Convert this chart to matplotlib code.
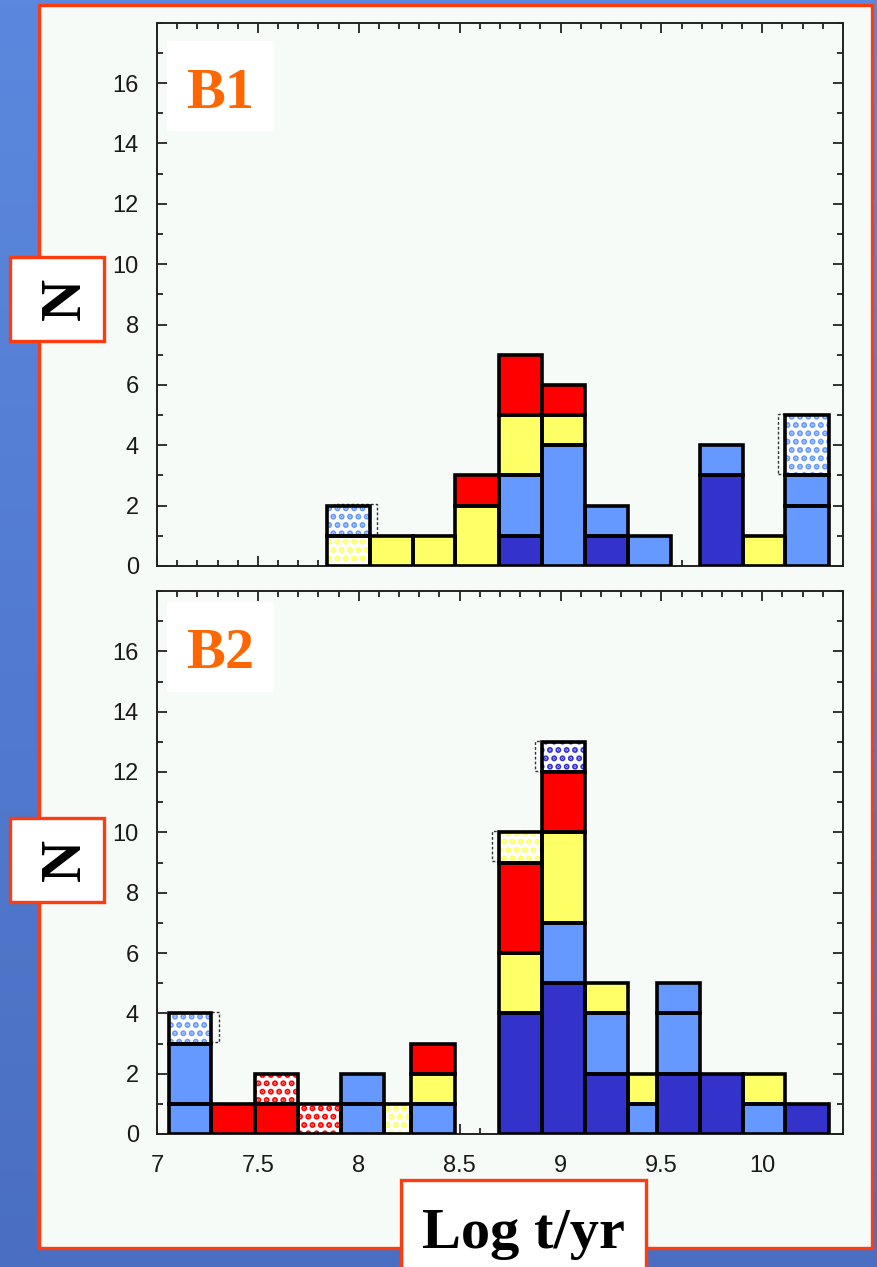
import numpy as np
import matplotlib.pyplot as plt
from matplotlib.patches import Rectangle
from matplotlib.colors import LinearSegmentedColormap
from matplotlib.ticker import MultipleLocator, FixedLocator

W, H, DPI = 877, 1267, 100

# fill colours for the four groups; a "_dot" suffix means the dotted (uncertain) version
COLORS = {'dark': '#3333cc', 'light': '#6699ff', 'yellow': '#ffff66', 'red': '#ff0000'}

# --- B1: bin edges in log t, stacked segments from the bottom up ---
b1_left = [7.843, 8.055, 8.267, 8.478, 8.694, 8.910, 9.123, 9.335, 9.692, 9.904, 10.115]
b1_right = [8.055, 8.267, 8.478, 8.694, 8.910, 9.123, 9.335, 9.547, 9.904, 10.115, 10.332]
b1_kinds = [
    ['yellow_dot', 'light_dot'],
    ['yellow'],
    ['yellow'],
    ['yellow', 'red'],
    ['dark', 'light', 'yellow', 'red'],
    ['light', 'yellow', 'red'],
    ['dark', 'light'],
    ['light'],
    ['dark', 'light'],
    ['yellow'],
    ['light', 'light', 'light_dot'],
]
b1_counts = [
    [1, 1], [1], [1], [2, 1], [1, 2, 2, 2], [4, 1, 1], [1, 1], [1], [3, 1], [1], [2, 1, 2],
]

# --- B2 ---
b2_left = [7.059, 7.270, 7.484, 7.697, 7.913, 8.127, 8.260, 8.694, 8.908, 9.121,
           9.333, 9.476, 9.689, 9.902, 10.114]
b2_right = [7.270, 7.484, 7.697, 7.913, 8.127, 8.260, 8.478, 8.908, 9.121, 9.333,
            9.476, 9.689, 9.902, 10.114, 10.332]
b2_kinds = [
    ['light', 'light', 'light_dot'],
    ['red'],
    ['red', 'red_dot'],
    ['red_dot'],
    ['light', 'light'],
    ['yellow_dot'],
    ['light', 'yellow', 'red'],
    ['dark', 'yellow', 'red', 'yellow_dot'],
    ['dark', 'light', 'yellow', 'red', 'dark_dot'],
    ['dark', 'light', 'yellow'],
    ['light', 'yellow'],
    ['dark', 'light', 'light'],
    ['dark'],
    ['light', 'yellow'],
    ['dark'],
]
b2_counts = [
    [1, 2, 1], [1], [1, 1], [1], [1, 1], [1], [1, 1, 1], [4, 2, 3, 1], [5, 2, 3, 2, 1],
    [2, 2, 1], [1, 1], [2, 2, 1], [2], [1, 1], [1],
]

x_ticks = [7, 7.5, 8, 8.5, 9, 9.5, 10]
x_ticklabels = ['7', '7.5', '8', '8.5', '9', '9.5', '10']
y_ticks = [0, 2, 4, 6, 8, 10, 12, 14, 16]

# faint offset outline behind the dotted top segment of some stacks: (bin index, direction)
b1_shadow = [(0, 1), (10, -1)]
b2_shadow = [(0, 1), (7, -1), (8, -1)]
SHADOW_DX = 0.035

plt.rcParams['hatch.linewidth'] = 3.0
TICK_FONT = ['Liberation Sans', 'DejaVu Sans']
SERIF = ['Liberation Serif', 'DejaVu Serif']
ORANGE_RED = '#ff3b10'
EDGE_LW = 2.6


def fx(px):
    return px / W


def fy(py):
    return 1 - py / H


def fig_box(fig, x0, y0, x1, y1, edge=None, lw=2.4, z=5):
    """white box given in pixel corners (top-left origin)"""
    r = Rectangle((fx(x0), fy(y1)), fx(x1) - fx(x0), fy(y0) - fy(y1),
                  transform=fig.transFigure, facecolor='white',
                  edgecolor=edge if edge else 'none', linewidth=lw if edge else 0,
                  zorder=z)
    fig.add_artist(r)


def draw_hist(ax, left, right, kinds, counts, shadows):
    for i, (l, r) in enumerate(zip(left, right)):
        w = r - l
        base = 0
        for kind, n in zip(kinds[i], counts[i]):
            name = kind.replace('_dot', '')
            if kind.endswith('_dot'):
                ax.bar(l, n, w, bottom=base, align='edge', color='white',
                       edgecolor=COLORS[name], hatch='..', linewidth=0, zorder=2)
            else:
                ax.bar(l, n, w, bottom=base, align='edge', color=COLORS[name],
                       linewidth=0, zorder=2)
            ax.bar(l, n, w, bottom=base, align='edge', fill=False,
                   edgecolor='black', linewidth=EDGE_LW, zorder=3)
            base += n
    for i, side in shadows:
        top_n = counts[i][-1]
        base = sum(counts[i]) - top_n
        ax.add_patch(Rectangle((left[i] + side * SHADOW_DX, base + 0.04),
                               right[i] - left[i], top_n,
                               fill=False, edgecolor='#333333', linewidth=1.0,
                               linestyle=(0, (2, 1.5)), zorder=1.5))


def style_axes(ax, show_x):
    ax.set_xlim(7.0, 10.4)
    ax.set_ylim(0, 18)
    ax.set_facecolor('#f7fbf7')
    for s in ax.spines.values():
        s.set_linewidth(1.4)
        s.set_color('#222222')
    ax.xaxis.set_major_locator(FixedLocator(x_ticks))
    ax.xaxis.set_minor_locator(MultipleLocator(0.1))
    ax.yaxis.set_major_locator(FixedLocator(y_ticks))
    ax.yaxis.set_minor_locator(MultipleLocator(1))
    ax.tick_params(which='both', direction='in', top=True, right=True,
                   color='#222222', width=1.3)
    ax.tick_params(which='major', length=7)
    ax.tick_params(which='minor', length=4)
    ax.tick_params(axis='y', pad=13)
    ax.tick_params(axis='x', pad=15)
    ax.set_yticklabels([str(v) for v in y_ticks], family=TICK_FONT, fontsize=17,
                       color='#1a1a1a')
    if show_x:
        ax.set_xticklabels(x_ticklabels, family=TICK_FONT, fontsize=17, color='#1a1a1a')
    else:
        ax.set_xticklabels([])


fig = plt.figure(figsize=(W / DPI, H / DPI), dpi=DPI)

# blue slide background with a soft vertical gradient
bg = fig.add_axes([0, 0, 1, 1], zorder=-10)
grad = np.linspace(0, 1, 256).reshape(-1, 1)
bg.imshow(grad, aspect='auto', extent=[0, 1, 0, 1],
          cmap=LinearSegmentedColormap.from_list('slide', ['#5b88de', '#4a6fc2']))
bg.axis('off')

# light panel with orange-red frame
fig.add_artist(Rectangle((fx(39), fy(1248)), fx(872) - fx(39), fy(5) - fy(1248),
                         transform=fig.transFigure, facecolor='#f7fbf7',
                         edgecolor=ORANGE_RED, linewidth=2.4, zorder=-5))

ax1 = fig.add_axes([fx(157), fy(566), fx(843) - fx(157), fy(22.7) - fy(566)])
ax2 = fig.add_axes([fx(157), fy(1134), fx(843) - fx(157), fy(591) - fy(1134)])

draw_hist(ax1, b1_left, b1_right, b1_kinds, b1_counts, b1_shadow)
draw_hist(ax2, b2_left, b2_right, b2_kinds, b2_counts, b2_shadow)
style_axes(ax1, False)
style_axes(ax2, True)

# panel tags
fig_box(fig, 167, 41, 274, 131)
fig.text(fx(220), fy(107.5), 'B1', ha='center', va='baseline', fontsize=42,
         fontweight='bold', family=SERIF, color='#ff6600', zorder=6)
fig_box(fig, 167, 602, 274, 692)
fig.text(fx(220), fy(668), 'B2', ha='center', va='baseline', fontsize=42,
         fontweight='bold', family=SERIF, color='#ff6600', zorder=6)

# y-axis label boxes
for top, bot in [(257, 341), (818, 902)]:
    fig_box(fig, 10, top, 104, bot, edge=ORANGE_RED)
    fig.text(fx(80), fy((top + bot) / 2), 'N', rotation=90, rotation_mode='anchor',
             ha='center', va='baseline', fontsize=42, fontweight='bold',
             family=SERIF, color='black', zorder=6)

# x-axis label box, running off the bottom edge
fig_box(fig, 401, 1180, 646, 1300, edge=ORANGE_RED)
fig.text(fx(523), fy(1248), 'Log t/yr', ha='center', va='baseline', fontsize=42,
         fontweight='bold', family=SERIF, color='black', zorder=6)

fig.savefig('out.png', dpi=DPI)
